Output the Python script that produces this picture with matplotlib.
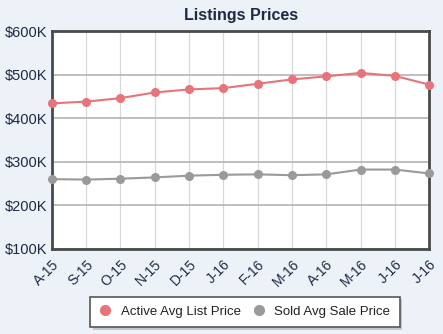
import matplotlib.pyplot as plt
from matplotlib.ticker import FuncFormatter
from matplotlib.transforms import ScaledTranslation
import matplotlib.patheffects as pe

months = ['A-15', 'S-15', 'O-15', 'N-15', 'D-15', 'J-16',
          'F-16', 'M-16', 'A-16', 'M-16', 'J-16', 'J-16']
active_list = [434, 438, 446, 459, 466, 469, 479, 489, 496, 504, 497, 477]
sold_sale = [260, 259, 261, 264, 268, 270, 271, 269, 271, 282, 282, 273]
y_ticks = [100, 200, 300, 400, 500, 600]

red = '#e8737a'
gray = '#9a9a9a'
plt.rcParams['font.family'] = ['Liberation Sans', 'DejaVu Sans']


def main() -> None:
    fig = plt.figure(figsize=(4.43, 3.34), dpi=100)
    fig.patch.set_facecolor('#ecf2f7')
    ax = fig.add_axes([0.117, 0.255, 0.852, 0.652])
    ax.set_facecolor('white')

    x = list(range(len(months)))
    ax.plot(x, active_list, color=red, lw=1.5, marker='o', ms=5.5,
            label='Active Avg List Price', clip_on=False, zorder=3)
    ax.plot(x, sold_sale, color=gray, lw=1.5, marker='o', ms=5.5,
            label='Sold Avg Sale Price', clip_on=False, zorder=3)

    ax.set_xlim(0, len(months) - 1)
    ax.set_ylim(100, 600)
    ax.set_yticks(y_ticks)
    ax.yaxis.set_major_formatter(FuncFormatter(lambda v, p: f'${int(v)}K'))
    ax.set_xticks(x)
    ax.set_xticklabels(months, rotation=45, ha='right', va='top',
                       rotation_mode='anchor', fontsize=10)
    shift = ScaledTranslation(8 / 100, 2 / 100, fig.dpi_scale_trans)
    for lbl in ax.get_xticklabels():
        lbl.set_transform(lbl.get_transform() + shift)

    # vertical grid between months, horizontal at each price step
    ax.grid(axis='x', color='#d8d8d8', lw=0.9)
    ax.grid(axis='y', color='#b4b4b4', lw=1.2)
    ax.set_axisbelow(True)
    ax.tick_params(length=0, colors='#1e2a44', pad=3)
    ax.tick_params(axis='y', labelsize=10.5)
    ax.tick_params(axis='x', pad=6)
    for s in ax.spines.values():
        s.set_color('#4a4a4a')
        s.set_linewidth(2)

    fig.text(0.544, 0.953, 'Listings Prices', ha='center', va='center',
             fontsize=11.5, fontweight='bold', color='#1e2a44')

    leg = fig.legend(loc='center', bbox_to_anchor=(0.553, 0.066), ncol=2,
                     frameon=True, fancybox=False, fontsize=9.5,
                     handlelength=0.8, handletextpad=0.8, columnspacing=0.95,
                     borderpad=0.7, labelcolor='#222222')
    for h in leg.legend_handles:
        h.set_linestyle('none')
        h.set_markersize(7)
    frame = leg.get_frame()
    frame.set_facecolor('white')
    frame.set_alpha(1)
    frame.set_edgecolor('#555555')
    frame.set_linewidth(1.2)
    frame.set_path_effects([pe.SimplePatchShadow(offset=(2, -2), alpha=0.25),
                            pe.Normal()])

    fig.savefig('out.png', dpi=100, facecolor=fig.get_facecolor())


if __name__ == '__main__':
    main()
